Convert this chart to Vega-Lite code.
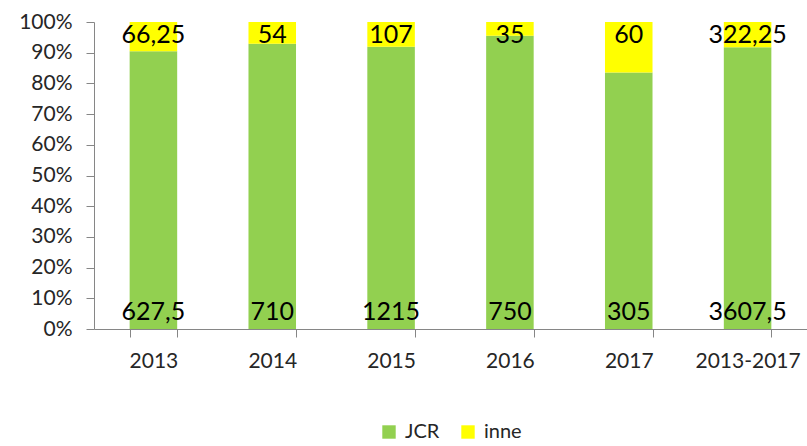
{
  "$schema": "https://vega.github.io/schema/vega-lite/v6.json",
  "width": 713,
  "height": 307,
  "autosize": {"type": "none"},
  "padding": {"left": 94, "top": 22, "right": 0, "bottom": 117},
  "config": {
    "view": {"stroke": null},
    "font": "Lato",
    "axis": {"labelFont": "Lato", "labelColor": "#262626", "domainColor": "#868686", "tickColor": "#868686", "grid": false, "title": null, "labelOverlap": false},
    "axisY": {"labelOverlap": false, "labelBound": false, "labelFontSize": 21, "tickSize": 8, "labelPadding": 14}
  },
  "data": {
    "values": [
      {"year": "2013", "series": "JCR", "value": 627.5, "label": "627,5"},
      {"year": "2013", "series": "inne", "value": 66.25, "label": "66,25"},
      {"year": "2014", "series": "JCR", "value": 710, "label": "710"},
      {"year": "2014", "series": "inne", "value": 54, "label": "54"},
      {"year": "2015", "series": "JCR", "value": 1215, "label": "1215"},
      {"year": "2015", "series": "inne", "value": 107, "label": "107"},
      {"year": "2016", "series": "JCR", "value": 750, "label": "750"},
      {"year": "2016", "series": "inne", "value": 35, "label": "35"},
      {"year": "2017", "series": "JCR", "value": 305, "label": "305"},
      {"year": "2017", "series": "inne", "value": 60, "label": "60"},
      {"year": "2013-2017", "series": "JCR", "value": 3607.5, "label": "3607,5"},
      {"year": "2013-2017", "series": "inne", "value": 322.25, "label": "322,25"}
    ]
  },
  "encoding": {
    "x": {
      "field": "year", "type": "nominal", "sort": null,
      "scale": {"paddingInner": 0.6, "paddingOuter": 0.3},
      "axis": {"labelAngle": 0, "labelFontSize": 21, "tickBand": "extent", "tickSize": 8, "labelPadding": 13, "domainWidth": 1, "labelOverlap": false}
    },
    "y": {
      "field": "value", "type": "quantitative", "stack": "normalize",
      "scale": {"domain": [0, 1]},
      "axis": {"format": ".0%", "values": [0, 0.1, 0.2, 0.3, 0.4, 0.5, 0.6, 0.7, 0.8, 0.9, 1], "labelOverlap": false}
    }
  },
  "layer": [
    {
      "mark": {"type": "bar"},
      "encoding": {
        "color": {
          "field": "series", "type": "nominal",
          "scale": {"domain": ["JCR", "inne"], "range": ["#92D050", "#FFFF00"]},
          "legend": {"title": null, "orient": "none", "direction": "horizontal", "legendX": 285, "legendY": 400, "symbolType": "square", "symbolSize": 180, "symbolStrokeWidth": 0, "labelFontSize": 20, "labelColor": "#262626", "columnPadding": 18, "labelOffset": 6}
        },
        "order": {"field": "series", "sort": "ascending"}
      }
    },
    {
      "transform": [{"filter": "datum.series === 'JCR'"}],
      "mark": {"type": "text", "baseline": "bottom", "dy": -4, "fontSize": 25, "color": "#000000"},
      "encoding": {"y": {"datum": 0}, "text": {"field": "label"}}
    },
    {
      "transform": [{"filter": "datum.series === 'inne'"}],
      "mark": {"type": "text", "baseline": "top", "dy": 1, "fontSize": 25, "color": "#000000"},
      "encoding": {"y": {"datum": 1}, "text": {"field": "label"}}
    }
  ]
}
